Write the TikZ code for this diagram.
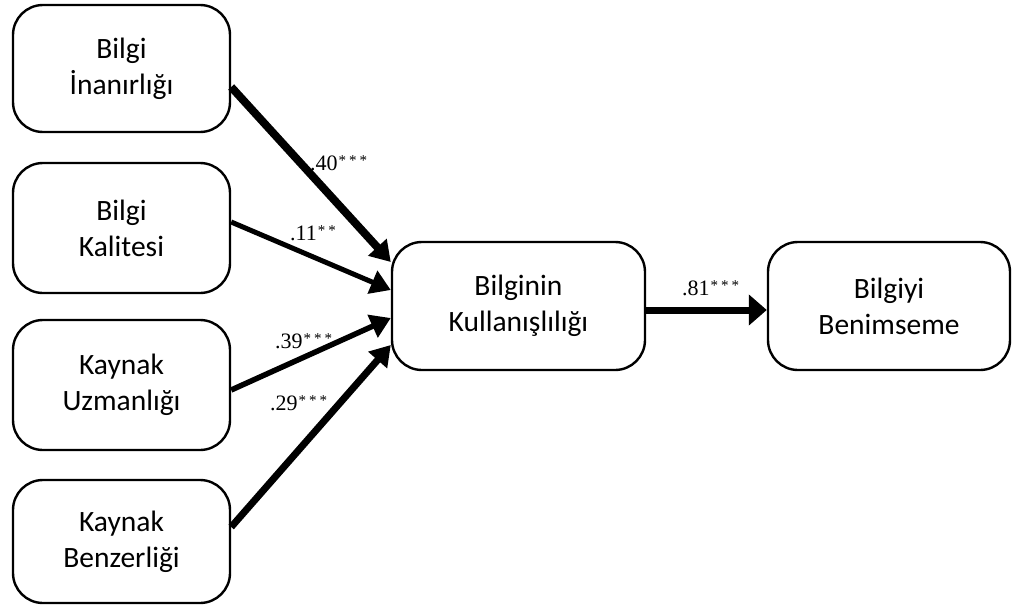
\documentclass[tikz,border=0pt]{standalone}
\usepackage{fontspec}
\setmainfont{Liberation Serif}
\newfontfamily\boxfont{Carlito}
\usetikzlibrary{arrows.meta,calc}
\newcommand\mystars[1]{\kern1pt\raisebox{4.5pt}{\fontsize{15}{15}\selectfont #1}}
\begin{document}
\begin{tikzpicture}[x=1pt,y=-1pt,
  box/.style={draw, line width=2.4pt, rounded corners=30pt, align=center,
    font=\boxfont\fontsize{29.5}{36}\selectfont, inner sep=0pt},
  conn/.style={-{Triangle[length=20pt,width=24pt]}},
  lab/.style={anchor=base west, font=\fontsize{22}{24}\selectfont, inner sep=0pt}]
\useasboundingbox (0,0) rectangle (1021,613);
\node[box, minimum width=217pt, minimum height=127pt] (b1) at (121.5,68.5) {Bilgi\\İnanırlığı};
\node[box, minimum width=217pt, minimum height=130pt] (b2) at (121.5,228) {Bilgi\\Kalitesi};
\node[box, minimum width=217pt, minimum height=130pt] (b3) at (121.5,385) {Kaynak\\Uzmanlığı};
\node[box, minimum width=217pt, minimum height=123pt] (b4) at (121.5,541.5) {Kaynak\\Benzerliği};
\node[box, minimum width=253pt, minimum height=128pt] (mid) at (518.5,306) {Bilginin\\Kullanışlılığı};
\node[box, minimum width=242pt, minimum height=128pt] (out) at (889,306) {Bilgiyi\\Benimseme};

\draw[conn, line width=8pt] ($(b1.east)+(0,18.5)$) -- ($(mid.west)+(0,-44)$);
\draw[conn, line width=5pt] ($(b2.east)+(0,-6)$) -- ($(mid.west)+(0,-16)$);
\draw[conn, line width=5.5pt] ($(b3.east)+(0,5)$) -- ($(mid.west)+(0,12)$);
\draw[conn, line width=7pt] ($(b4.east)+(0,-14.5)$) -- ($(mid.west)+(0,39)$);
\draw[-{Triangle[length=18pt,width=30pt]}, line width=7pt] ($(mid.east)+(0,4)$) -- ($(out.west)+(0,4)$);

\node[lab] (l1) at (310,170) {.40\mystars{*\kern3pt*\kern3pt*}};
\node[lab] (l2) at (290,240) {.11\mystars{*\kern3pt*}};
\node[lab] (l3) at (275,348) {.39\mystars{*\kern3pt*\kern3pt*}};
\node[lab] (l4) at (270,410) {.29\mystars{*\kern3pt*\kern3pt*}};
\node[lab] (l5) at (682,295) {.81\mystars{*\kern3pt*\kern3pt*}};
\end{tikzpicture}
\end{document}
